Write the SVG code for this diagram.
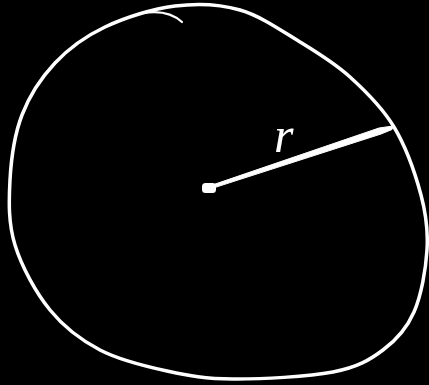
<svg xmlns="http://www.w3.org/2000/svg" width="429" height="385" viewBox="0 0 429 385">
<style>
.ink{fill:none;stroke:#ffffff;stroke-linecap:round;stroke-linejoin:round}
.lbl{font-family:"Liberation Serif",serif;font-style:italic;fill:#ffffff}
</style>
<rect width="429" height="385" fill="#000000"/>
<g id="circle">
<path class="ink" stroke-width="3.5" d="M175,6 C197.5,3.2 219.2,4 240,10 C260.8,16 281.7,30.8 300,42 C318.3,53.2 334.3,62.8 350,77 C365.7,91.2 382.2,107.3 394,127 C405.8,146.7 415.5,174.5 421,195 C426.5,215.5 428.2,230.5 427,250 C425.8,269.5 421.3,295.3 414,312 C406.7,328.7 396.5,340 383,350 C369.5,360 358,367.2 333,372 C308,376.8 260.7,379.2 233,379 C205.3,378.8 189.2,375.8 167,371 C144.8,366.2 119.5,360.2 100,350 C80.5,339.8 64.2,327.5 50,310 C35.8,292.5 21.7,266.7 15,245 C8.3,223.3 8.8,201.7 10,180 C11.2,158.3 14.5,134.5 22,115 C29.5,95.5 41.2,77.7 55,63 C68.8,48.3 85,36.5 105,27 C125,17.5 152.5,8.8 175,6 Z"/>
<path class="ink" stroke-width="2.2" d="M143,13 Q168,9 182,22"/>
</g>
<g id="radius">
<path fill="#ffffff" stroke="#ffffff" stroke-width="1" stroke-linejoin="round" d="M213.5,184.6 L379,128 L393,126 L392,129.5 L381,134 L214.5,187.6 Z"/>
<rect x="202" y="183" width="14" height="10" rx="3.5" fill="#ffffff"/>
</g>
<g id="label">
<text class="lbl" x="274" y="152" font-size="50">r</text>
</g>
</svg>
